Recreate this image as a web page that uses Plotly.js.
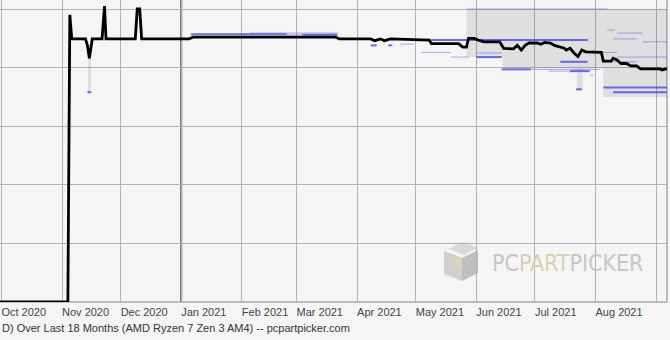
<!DOCTYPE html>
<html>
<head>
<meta charset="utf-8">
<script src="https://cdn.plot.ly/plotly-3.0.1.min.js"></script>
<style>
  html, body { margin: 0; padding: 0; background: #f5f5f5; }
  #chart { width: 670px; height: 340px; }
</style>
</head>
<body>
<div id="chart"></div>
<script>
// ---------------- DATA ----------------
// Lowest price line (black)
const priceDates = [
  '2020-09-29', '2020-11-04', '2020-11-05', '2020-11-06', '2020-11-13', '2020-11-14',
  '2020-11-15', '2020-11-16', '2020-11-16 12:00', '2020-11-21 12:00', '2020-11-22 18:00',
  '2020-11-23 12:00', '2020-12-08 12:00', '2020-12-09 12:00', '2020-12-10 18:00',
  '2020-12-11 18:00', '2021-01-05', '2021-01-07', '2021-03-21', '2021-03-23',
  '2021-04-08', '2021-04-10', '2021-04-13', '2021-04-15', '2021-04-18', '2021-05-08',
  '2021-05-09', '2021-05-23', '2021-05-25', '2021-05-27', '2021-05-28', '2021-05-31',
  '2021-06-02', '2021-06-05', '2021-06-13', '2021-06-15', '2021-06-20', '2021-06-22',
  '2021-06-24', '2021-06-26', '2021-06-28', '2021-07-02', '2021-07-04', '2021-07-06',
  '2021-07-09', '2021-07-11', '2021-07-14', '2021-07-16', '2021-07-17', '2021-07-19',
  '2021-07-21', '2021-07-23', '2021-07-25', '2021-07-27', '2021-08-04', '2021-08-05',
  '2021-08-09', '2021-08-10', '2021-08-12', '2021-08-14', '2021-08-17', '2021-08-19',
  '2021-08-22', '2021-08-24', '2021-09-03', '2021-09-04', '2021-09-06', '2021-09-07'
];
const priceValues = [
  0, 0, 490, 449, 449, 438,
  416, 438, 449, 449, 505,
  449, 449, 500, 500,
  449, 449, 452, 452, 449,
  449, 446, 449, 446, 449, 447,
  441, 441, 435, 435, 450, 450,
  447, 444, 444, 433, 432, 438,
  430, 438, 442, 442, 440, 443,
  442, 438, 435, 433, 430, 433,
  425, 419, 430, 427, 426, 411,
  411, 416, 413, 407, 407, 403,
  403, 398, 398, 396, 398, 398
];

// Price range band (grey) across merchants
const rangeDates = ['2021-05-27', '2021-06-14 12:00', '2021-07-22 12:00', '2021-07-25 12:00', '2021-08-05', '2021-09-07'];
const rangeLow   = [418, 399, 361, 399, 350, 350];
const rangeHigh  = [500, 500, 500, 500, 500, 500];

// Short range bar during the November dip
const dipDates = ['2020-11-15'];
const dipLow   = [358];
const dipHigh  = [416];

// Merchant price segments (main)
const blueMainStart = ['2021-01-06', '2021-03-04', '2021-05-09', '2021-06-14', '2021-07-14', '2021-07-19', '2021-08-05', '2021-08-10', '2021-06-01', '2021-07-22', '2020-11-14', '2021-04-08', '2021-04-17'];
const blueMainEnd   = ['2021-02-24', '2021-03-22', '2021-07-28', '2021-06-29', '2021-07-28', '2021-07-29', '2021-09-07', '2021-09-07', '2021-06-14', '2021-07-25', '2020-11-16', '2021-04-11', '2021-04-19'];
const blueMainPrice = [457, 456, 447, 397, 410, 394, 366, 358, 418, 363, 358, 438, 438];

// Merchant price segments (minor)
const blueMinorStart = ['2021-05-27', '2021-05-04', '2021-05-19', '2021-06-01', '2021-06-29', '2021-08-05', '2021-08-07', '2021-08-12', '2021-08-10', '2021-08-25', '2021-08-12', '2021-07-28', '2021-07-29', '2021-07-08', '2021-02-24', '2021-04-23', '2021-02-05'];
const blueMinorEnd   = ['2021-08-07', '2021-05-19', '2021-05-28', '2021-06-14', '2021-08-03', '2021-08-22', '2021-08-11', '2021-08-25', '2021-08-22', '2021-09-07', '2021-09-07', '2021-08-12', '2021-07-31', '2021-07-22', '2021-03-04', '2021-04-30', '2021-03-22'];
const blueMinorPrice = [500, 426, 418, 425, 397, 410, 464, 459, 449, 444, 418, 426, 387, 394, 456, 440, 459];

// Axis ticks
const tickDates  = ['2020-10-01', '2020-11-01', '2020-12-01', '2021-01-01', '2021-02-01', '2021-03-01', '2021-04-01', '2021-05-01', '2021-06-01', '2021-07-01', '2021-08-01', '2021-09-01'];
const tickLabels = ['Oct 2020', 'Nov 2020', 'Dec 2020', 'Jan 2021', 'Feb 2021', 'Mar 2021', 'Apr 2021', 'May 2021', 'Jun 2021', 'Jul 2021', 'Aug 2021', ''];
const priceTicks = [0, 100, 200, 300, 400, 500];
const yearBoundary = '2021-01-01';

const titleText = 'D) Over Last 18 Months (AMD Ryzen 7 Zen 3 AM4) -- pcpartpicker.com';

// ---------------- BUILD ----------------
function segs(starts, ends, prices) {
  const x = [], y = [];
  for (let i = 0; i < starts.length; i++) {
    x.push(starts[i], ends[i], null);
    y.push(prices[i], prices[i], null);
  }
  return {x, y};
}
const mainSeg = segs(blueMainStart, blueMainEnd, blueMainPrice);
const minorSeg = segs(blueMinorStart, blueMinorEnd, blueMinorPrice);

const traces = [
  { x: rangeDates, y: rangeHigh, mode: 'lines', line: {width: 0, shape: 'hv'}, hoverinfo: 'skip' },
  { x: rangeDates, y: rangeLow, mode: 'lines', line: {width: 0, shape: 'hv'}, fill: 'tonexty',
    fillcolor: 'rgba(0,0,0,0.085)', hoverinfo: 'skip' },
  { type: 'bar', x: dipDates, base: dipLow, y: dipHigh.map((h, i) => h - dipLow[i]),
    width: 1.6 * 86400000, marker: {color: 'rgba(0,0,0,0.09)'}, hoverinfo: 'skip' },
  { x: minorSeg.x, y: minorSeg.y, mode: 'lines', line: {color: 'rgba(100,100,240,0.55)', width: 1}, connectgaps: false },
  { x: mainSeg.x, y: mainSeg.y, mode: 'lines', line: {color: 'rgba(80,80,235,0.85)', width: 2}, connectgaps: false },
  { x: priceDates, y: priceValues, mode: 'lines', line: {color: '#000', width: 2.8} }
];

// Logo (decoration) in pixel coordinates converted to paper
const PW = 667, PH = 302;
function path(pts) {
  return 'M ' + pts.map(p => (p[0] / PW).toFixed(5) + ',' + (1 - p[1] / PH).toFixed(5)).join(' L ') + ' Z';
}
const logoShapes = [
  {pts: [[449,249],[463,242],[478,248],[464,255]], c: '#d9d9d9'},
  {pts: [[444,251],[462,258],[462,281],[444,274]], c: '#cfcfcf'},
  {pts: [[462,258],[478,250],[478,273],[462,281]], c: '#bfbfbf'},
  {pts: [[455,255],[462,258],[462,270],[455,267]], c: '#ddd3b6'}
].map(s => ({type: 'path', xref: 'paper', yref: 'paper', path: path(s.pts),
             fillcolor: s.c, line: {width: 0}, layer: 'below'}));

const layout = {
  width: 670, height: 340,
  paper_bgcolor: '#f5f5f5', plot_bgcolor: '#f5f5f5',
  margin: {l: 0, r: 3, t: 0, b: 38, pad: 0},
  showlegend: false,
  bargap: 0,
  xaxis: {
    type: 'date',
    range: ['2020-09-30 06:30', '2021-09-06 14:00'],
    tickvals: tickDates, ticktext: tickLabels,
    ticks: '', ticklabelposition: 'outside right', ticklabelstandoff: 2,
    tickfont: {family: 'Liberation Sans, Arial, sans-serif', size: 11, color: '#444'},
    showgrid: true, gridcolor: '#b2b2b2', gridwidth: 1,
    zeroline: false, showline: false, fixedrange: true
  },
  yaxis: {
    range: [0, 515.4],
    tickvals: priceTicks, showticklabels: false, ticks: '',
    showgrid: true, gridcolor: '#b2b2b2', gridwidth: 1,
    zeroline: false, showline: false, fixedrange: true
  },
  shapes: [
    {type: 'line', xref: 'x', yref: 'paper', x0: yearBoundary, x1: yearBoundary, y0: 0, y1: 1,
     line: {color: '#555', width: 2}, layer: 'below'},
    {type: 'line', xref: 'paper', yref: 'paper', x0: 1, x1: 1, y0: 0, y1: 1,
     line: {color: '#aaa', width: 1.5}, layer: 'below'},
    {type: 'line', xref: 'paper', yref: 'paper', x0: 0, x1: 1, y0: 0, y1: 0,
     line: {color: '#aaa', width: 1.5}, layer: 'below'}
  ].concat(logoShapes),
  annotations: [
    {text: titleText, xref: 'paper', yref: 'paper', x: 0, y: 1 - 327.5 / PH,
     xanchor: 'left', yanchor: 'middle', showarrow: false,
     font: {family: 'Liberation Sans, Arial, sans-serif', size: 11, color: '#333'}},
    {text: '<span style="color:#c6c6c6">PC</span><span style="color:#dacfb2">PART</span><span style="color:#c6c6c6">PICKER</span>',
     xref: 'paper', yref: 'paper', x: 567 / PW, y: 1 - 263 / PH, xanchor: 'center', yanchor: 'middle',
     showarrow: false,
     font: {family: 'Liberation Sans Narrow, DejaVu Sans Condensed, sans-serif', size: 23, color: '#c6c6c6'}}
  ]
};

Plotly.newPlot('chart', traces, layout, {displayModeBar: false, staticPlot: true});
</script>
</body>
</html>
